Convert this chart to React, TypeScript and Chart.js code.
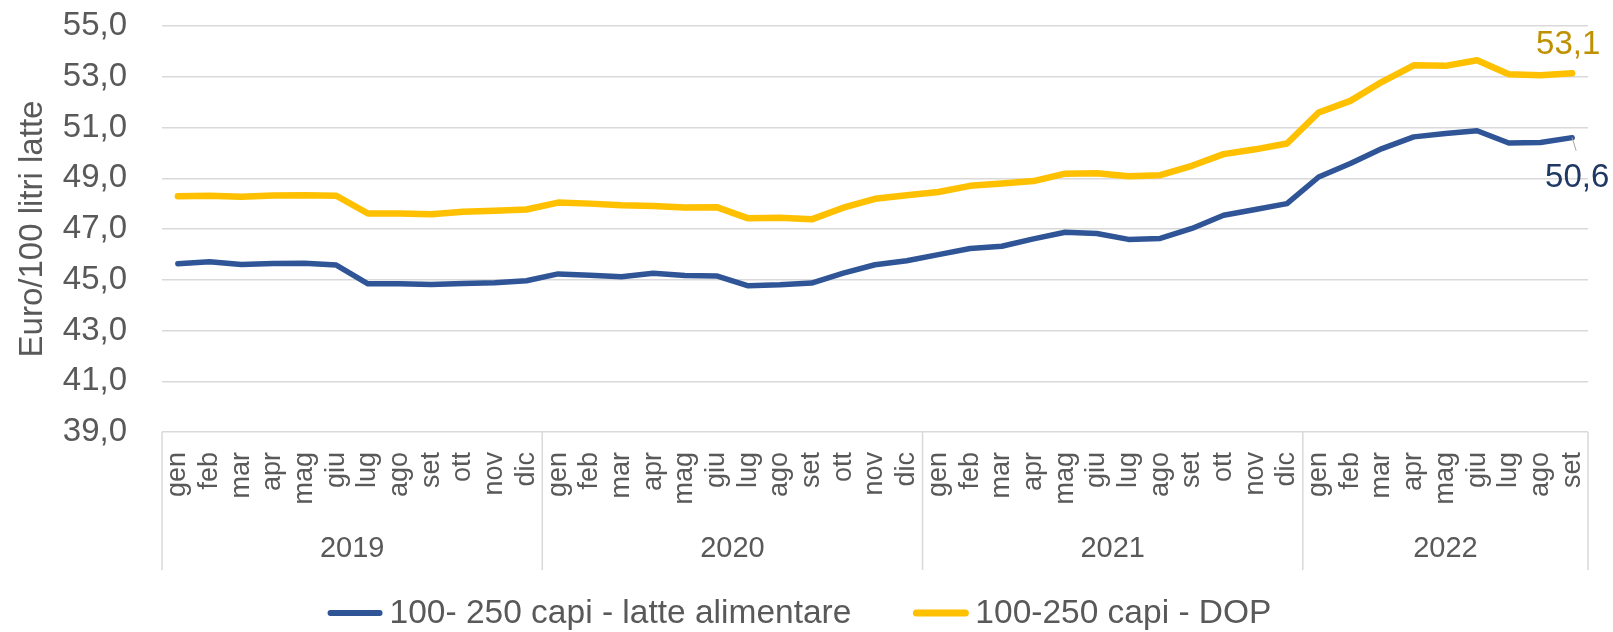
import React, { useEffect, useRef } from 'react';
import { Chart, registerables } from 'chart.js';

Chart.register(...registerables);

const monthNames = ['gen', 'feb', 'mar', 'apr', 'mag', 'giu', 'lug', 'ago', 'set', 'ott', 'nov', 'dic'];
const years = ['2019', '2020', '2021', '2022'];
const monthsPerYear = [12, 12, 12, 9];

const latteAlimentare = [
  45.63, 45.71, 45.6, 45.64, 45.65, 45.58, 44.84, 44.84, 44.81, 44.85, 44.88, 44.96,
  45.23, 45.18, 45.12, 45.26, 45.17, 45.15, 44.76, 44.8, 44.87, 45.26, 45.59, 45.75,
  45.99, 46.23, 46.32, 46.61, 46.87, 46.82, 46.59, 46.63, 47.02, 47.54, 47.77, 48.0,
  49.05, 49.58, 50.17, 50.63, 50.76, 50.87, 50.39, 50.41, 50.6,
];

const dop = [
  48.29, 48.31, 48.27, 48.32, 48.33, 48.31, 47.61, 47.61, 47.58, 47.68, 47.72, 47.77,
  48.04, 48.0, 47.94, 47.91, 47.85, 47.86, 47.42, 47.44, 47.38, 47.84, 48.19, 48.33,
  48.46, 48.7, 48.79, 48.89, 49.18, 49.2, 49.08, 49.12, 49.49, 49.95, 50.14, 50.37,
  51.59, 52.05, 52.8, 53.45, 53.43, 53.65, 53.1, 53.06, 53.14,
];

const seriesNames = ['100- 250 capi - latte alimentare', '100-250 capi - DOP'];
const yMin = 39;
const yMax = 55;
const yStep = 2;

const categories: string[] = [];
monthsPerYear.forEach((n) => {
  for (let i = 0; i < n; i++) categories.push(monthNames[i]);
});

const FONT = '"Liberation Sans", Arial, sans-serif';
const TEXT = '#595959';
const GRID = '#D9D9D9';
const BLUE = '#2F5597';
const YELLOW = '#FFC000';
const fmt = (v: number) => v.toFixed(1).replace('.', ',');

const decorPlugin = {
  id: 'decor',
  afterDraw(chart: any) {
    const { ctx, chartArea, scales } = chart;
    const x = scales.x;
    const y = scales.y;
    const half = (x.getPixelForValue(1) - x.getPixelForValue(0)) / 2;
    const bottom = chartArea.bottom;
    const sepBottom = bottom + 138;
    ctx.save();
    // year separators & labels
    ctx.strokeStyle = GRID;
    ctx.lineWidth = 1.5;
    let idx = 0;
    const bounds: number[] = [x.getPixelForValue(0) - half];
    monthsPerYear.forEach((n, k) => {
      const start = x.getPixelForValue(idx) - half;
      const end = x.getPixelForValue(idx + n - 1) + half;
      bounds.push(end);
      ctx.fillStyle = TEXT;
      ctx.font = `29px ${FONT}`;
      ctx.textAlign = 'center';
      ctx.textBaseline = 'middle';
      ctx.fillText(years[k], (start + end) / 2, bottom + 117);
      idx += n;
    });
    bounds.forEach((b) => {
      ctx.beginPath();
      ctx.moveTo(b, bottom);
      ctx.lineTo(b, sepBottom);
      ctx.stroke();
    });

    // end labels
    const last = categories.length - 1;
    const px = x.getPixelForValue(last);
    const pyD = y.getPixelForValue(dop[last]);
    const pyL = y.getPixelForValue(latteAlimentare[last]);
    ctx.font = `33px ${FONT}`;
    ctx.textAlign = 'center';
    ctx.textBaseline = 'middle';
    ctx.fillStyle = '#BF9000';
    ctx.fillText(fmt(dop[last]), px - 4, pyD - 28);
    ctx.strokeStyle = '#A6A6A6';
    ctx.lineWidth = 1;
    ctx.beginPath();
    ctx.moveTo(px, pyL);
    ctx.lineTo(px + 4, pyL + 13);
    ctx.stroke();
    ctx.fillStyle = '#203864';
    ctx.fillText(fmt(latteAlimentare[last]), px + 5, pyL + 40);

    // legend
    const legendY = 613;
    const lineW = 55;
    const gapText = 7;
    const gapItems = 62;
    ctx.font = `33.5px ${FONT}`;
    const w0 = ctx.measureText(seriesNames[0]).width;
    const w1 = ctx.measureText(seriesNames[1]).width;
    const total = lineW + gapText + w0 + gapItems + lineW + gapText + w1;
    let lx = chart.width / 2 - 7 - total / 2;
    const colors = [BLUE, YELLOW];
    const widths = [w0, w1];
    const lws = [6, 7];
    ctx.lineCap = 'round';
    for (let i = 0; i < 2; i++) {
      ctx.strokeStyle = colors[i];
      ctx.lineWidth = lws[i];
      ctx.beginPath();
      ctx.moveTo(lx + 3, legendY);
      ctx.lineTo(lx + lineW - 3, legendY);
      ctx.stroke();
      lx += lineW + gapText;
      ctx.fillStyle = TEXT;
      ctx.textAlign = 'left';
      ctx.textBaseline = 'middle';
      ctx.fillText(seriesNames[i], lx, legendY + 1);
      lx += widths[i] + gapItems;
    }
    ctx.restore();
  },
};

export default function App() {
  const ref = useRef<HTMLCanvasElement>(null);
  useEffect(() => {
    if (!ref.current) return;
    const chart = new Chart(ref.current, {
      type: 'line',
      data: {
        labels: categories,
        datasets: [
          {
            label: seriesNames[0],
            data: latteAlimentare,
            borderColor: BLUE,
            backgroundColor: BLUE,
            borderWidth: 5.5,
            pointRadius: 0,
            tension: 0,
            borderJoinStyle: 'round',
            borderCapStyle: 'round',
          },
          {
            label: seriesNames[1],
            data: dop,
            borderColor: YELLOW,
            backgroundColor: YELLOW,
            borderWidth: 6.5,
            pointRadius: 0,
            tension: 0,
            borderJoinStyle: 'round',
            borderCapStyle: 'round',
          },
        ],
      },
      options: {
        responsive: false,
        animation: false,
        layout: { padding: { top: 26, right: 25, bottom: 60, left: 0 } },
        plugins: {
          legend: { display: false },
          tooltip: { enabled: false },
        },
        scales: {
          x: {
            offset: true,
            grid: {
              display: true,
              drawOnChartArea: false,
              drawTicks: true,
              tickLength: 20,
              tickColor: 'rgba(0,0,0,0)',
              offset: true,
            },
            border: { display: false },
            ticks: {
              autoSkip: false,
              minRotation: 90,
              maxRotation: 90,
              padding: 0,
              color: TEXT,
              font: { family: FONT, size: 27 },
            },
            afterFit: (s: any) => {
              s.height = 140;
            },
          },
          y: {
            min: yMin,
            max: yMax,
            grid: {
              color: GRID,
              lineWidth: 1.5,
              drawTicks: true,
              tickLength: 35,
              tickColor: 'rgba(0,0,0,0)',
            },
            border: { display: false },
            ticks: {
              stepSize: yStep,
              padding: 0,
              color: TEXT,
              font: { family: FONT, size: 33 },
              callback: (v: any) => fmt(Number(v)),
            },
            title: {
              display: true,
              text: 'Euro/100 litri latte',
              color: TEXT,
              font: { family: FONT, size: 33 },
              padding: { top: 13, bottom: 0 },
            },
            afterFit: (s: any) => {
              s.width = 162;
            },
          },
        },
      },
      plugins: [decorPlugin],
    });
    return () => chart.destroy();
  }, []);
  return (
    <div style={{ position: 'absolute', left: 0, top: 0, width: 1613, height: 632, background: '#fff' }}>
      <canvas ref={ref} width={1613} height={632} />
    </div>
  );
}
